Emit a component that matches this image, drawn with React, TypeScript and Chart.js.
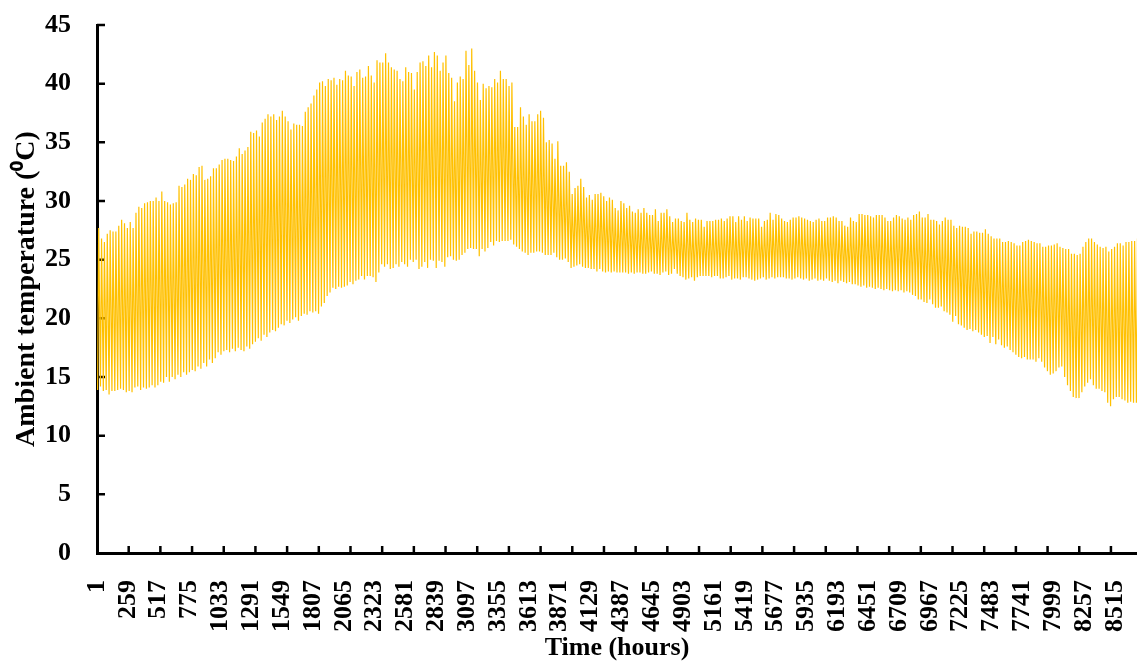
import { useEffect, useRef } from "react";
import { Chart, registerables } from "chart.js";

Chart.register(...registerables);

// Daily maximum ambient temperature (°C), one value per day of the year
const dailyMax = [
  27.7, 26.8, 26.5, 27.2, 27.5, 27.4, 27.4, 27.9, 28.4, 28.1,
  27.7, 28.2, 27.7, 29.0, 29.5, 29.4, 29.8, 29.9, 30.0, 30.0,
  30.3, 30.0, 30.8, 30.0, 29.9, 29.7, 29.8, 29.9, 31.3, 31.2,
  31.4, 31.9, 31.8, 32.3, 32.2, 32.9, 33.0, 31.8, 31.9, 32.1,
  32.8, 32.8, 33.1, 33.5, 33.6,
  33.6, 33.5, 33.4, 33.8, 34.5, 34.0, 34.3, 34.6, 35.9, 35.8,
  36.0, 35.5, 36.7, 37.0, 37.4, 37.2, 37.4, 36.9, 37.2, 37.7,
  37.2, 36.8, 36.1, 36.6, 36.5, 36.5, 36.4, 37.6, 38.0, 38.3,
  39.0, 39.5, 40.1, 40.2, 39.8, 40.4, 40.3, 40.5, 39.9, 40.4,
  40.3, 41.1, 40.7, 40.6, 39.8, 41.0, 41.2, 40.5,
  40.6, 41.5, 40.7, 40.1, 42.0, 41.8, 41.8, 42.6, 41.8, 41.4,
  41.2, 41.1, 40.4, 40.2, 41.4, 41.0, 40.9, 39.5, 41.0, 41.8,
  41.9, 41.5, 42.4, 41.4, 42.7, 42.4, 41.1, 41.8, 42.4, 40.9,
  40.5, 38.5, 40.1, 40.6, 40.4, 42.8, 41.6, 43.0, 41.1, 40.1,
  38.6, 40.0, 39.6, 39.8, 39.7, 40.4, 40.1, 41.1,
  40.4, 40.4, 39.8, 40.1, 36.3, 36.3, 38.0, 37.2, 36.5, 37.4,
  36.8, 36.8, 37.4, 37.7, 37.1, 35.0, 35.2, 34.9, 33.6, 35.1,
  33.0, 33.0, 33.3, 32.5, 30.6, 31.1, 31.3, 31.9, 31.2, 30.3,
  30.5, 30.1, 30.6, 30.6, 30.7, 30.4, 30.0, 30.3, 30.1, 29.4,
  29.2, 30.0, 29.8, 29.4, 29.6, 29.1, 29.0, 29.3,
  29.0, 29.4, 29.0, 28.8, 28.8, 29.3, 28.3, 29.0, 29.0, 29.3,
  28.7, 28.2, 28.5, 28.5, 28.3, 28.2, 29.0, 28.4, 28.2, 28.5,
  28.4, 28.4, 27.8, 28.3, 28.3, 28.3, 28.4, 28.4, 28.5, 28.3,
  28.5, 28.7, 28.7, 28.2, 28.7, 28.4, 28.7, 28.3, 28.6, 28.5,
  28.5, 28.5, 27.8, 28.3, 28.4, 29.0,
  28.4, 28.9, 28.8, 28.5, 28.3, 28.2, 28.4, 28.6, 28.6, 28.7,
  28.6, 28.5, 28.4, 28.3, 28.2, 28.4, 28.5, 28.3, 28.3, 28.6,
  28.6, 28.7, 28.6, 28.3, 28.3, 27.9, 27.8, 28.6, 28.3, 28.2,
  28.9, 28.9, 28.8, 28.8, 28.7, 28.6, 28.8, 28.8, 28.8, 28.6,
  28.3, 28.3, 28.6, 28.8, 28.7, 28.5, 28.4, 28.6,
  28.4, 28.8, 28.9, 29.1, 28.6, 28.6, 28.9, 28.4, 28.4, 28.3,
  28.0, 28.3, 28.6, 28.4, 28.4, 27.9, 27.7, 27.9, 27.8, 27.8,
  27.7, 27.2, 27.4, 27.4, 27.3, 27.3, 27.6, 27.2, 27.0, 26.8,
  26.8, 26.8, 26.5, 26.5, 26.6, 26.5, 26.4, 26.2, 26.2, 26.5,
  26.6, 26.7, 26.6, 26.5, 26.4, 26.4, 26.1,
  26.1, 26.2, 26.2, 26.3, 26.4, 26.1, 26.0, 25.9, 25.9, 25.5,
  25.5, 25.4, 25.5, 26.1, 26.5, 26.8, 26.8, 26.5, 26.3, 26.1,
  26.0, 26.1, 25.7, 25.9, 26.1, 26.4, 26.4, 26.2, 26.5, 26.5,
  26.6, 26.6, 26.8, 27.0, 26.6,
];

// Daily minimum ambient temperature (°C), one value per day of the year
const dailyMin = [
  13.9, 14.2, 13.8, 13.9, 13.5, 13.8, 13.8, 13.9, 14.0, 13.9,
  13.7, 13.8, 13.7, 14.1, 14.2, 13.9, 14.1, 14.0, 14.1, 14.3,
  14.1, 14.3, 14.6, 14.5, 15.0, 14.6, 15.0, 14.8, 15.2, 15.0,
  15.4, 15.2, 15.4, 15.6, 15.5, 15.9, 15.7, 16.2, 15.9, 16.5,
  16.2, 16.6, 17.1, 16.9, 17.2,
  17.3, 17.1, 17.4, 17.2, 17.5, 17.3, 17.2, 17.6, 17.4, 17.8,
  18.0, 18.3, 18.1, 18.6, 18.4, 18.8, 19.0, 18.9,
  19.2, 19.5, 19.4, 19.8, 19.6, 19.9, 20.1, 19.8,
  20.2, 20.4, 20.3, 20.6, 20.5, 20.6, 20.4, 21.0,
  21.3, 21.9, 22.2, 22.6, 22.5, 22.7, 22.6,
  22.7, 22.8, 23.1, 22.9, 23.2, 23.3, 23.6,
  23.3, 23.6, 23.6, 23.5, 23.1, 23.9, 24.6, 24.4, 24.6, 24.2,
  24.3, 24.6, 24.4, 24.8, 24.6, 24.4, 25.0, 24.8, 25.0, 24.2,
  24.4, 24.8, 24.3, 25.0, 24.9, 24.3, 24.9, 24.8, 24.4, 25.2,
  25.3, 25.0, 24.9, 25.0, 25.4, 25.6, 25.9, 26.0, 25.9, 25.9,
  25.3, 25.9, 25.7, 26.0, 26.5, 26.2, 26.6, 26.5,
  26.6, 26.6, 26.6, 26.7, 26.3, 26.1, 25.9, 25.7, 25.6, 25.4,
  25.6, 25.6, 25.7, 25.7, 25.6, 25.4, 25.4, 25.4, 25.6, 25.2,
  25.0, 25.0, 25.1, 24.8, 24.3, 24.4, 24.5, 24.6, 24.4, 24.3,
  24.3, 24.2, 24.2, 24.0, 24.2, 24.0, 23.9, 24.0, 23.9, 24.0,
  23.9, 23.9, 23.9, 23.9, 23.8, 23.9, 23.8, 23.9,
  23.9, 23.8, 23.8, 23.9, 24.0, 23.8, 23.8, 23.7, 23.9, 24.0,
  23.7, 23.8, 24.2, 23.8, 23.6, 23.5, 23.3, 23.4, 23.5, 23.2,
  23.5, 23.6, 23.6, 23.6, 23.6, 23.5, 23.6, 23.6, 23.4, 23.4,
  23.5, 23.6, 23.3, 23.4, 23.4, 23.3, 23.5, 23.5, 23.4, 23.3,
  23.2, 23.3, 23.4, 23.5, 23.3, 23.4,
  23.5, 23.4, 23.5, 23.5, 23.5, 23.4, 23.4, 23.3, 23.4, 23.5,
  23.4, 23.3, 23.4, 23.2, 23.3, 23.4, 23.2, 23.3, 23.2, 23.4,
  23.2, 23.1, 23.2, 23.0, 23.2, 23.1, 23.0, 23.1, 22.9, 22.9,
  22.8, 22.7, 22.8, 22.6, 22.7, 22.6, 22.5, 22.6, 22.5, 22.4,
  22.5, 22.4, 22.3, 22.4, 22.3, 22.4, 22.2, 22.3,
  22.2, 22.0, 21.9, 21.6, 21.6, 21.4, 21.3, 21.6, 21.2, 20.9,
  20.9, 21.0, 20.6, 20.5, 20.3, 19.7, 20.2, 19.5, 19.4, 19.2,
  19.0, 19.1, 18.9, 19.0, 18.8, 18.6, 18.4, 18.5, 17.9, 18.4,
  17.8, 18.2, 17.7, 17.5, 17.6, 17.3, 17.1, 16.9, 16.7, 16.6,
  16.7, 16.5, 16.5, 16.5, 16.3, 16.6, 16.3,
  15.8, 15.5, 15.2, 15.3, 15.5, 15.8, 15.9, 15.0, 14.3, 13.8,
  13.3, 13.2, 13.2, 13.7, 14.2, 14.5, 14.8, 14.3, 14.0, 14.0,
  13.8, 13.7, 12.8, 12.5, 13.1, 13.3, 13.3, 13.1, 13.0, 12.8,
  12.9, 12.8, 12.8, 13.0, 12.9,
];

// Hour labels printed along the time axis
const hourLabels = [
  1, 259, 517, 775, 1033, 1291, 1549, 1807, 2065, 2323, 2581, 2839,
  3097, 3355, 3613, 3871, 4129, 4387, 4645, 4903, 5161, 5419, 5677,
  5935, 6193, 6451, 6709, 6967, 7225, 7483, 7741, 7999, 8257, 8515,
];

// Temperature axis ticks
const tempTicks = [0, 5, 10, 15, 20, 25, 30, 35, 40, 45];

const HOUR_OF_MIN = 6;
const HOUR_OF_MAX = 15;
const TICK_MARK_STEP = 265;
const X_MIN = 1;
const X_MAX = 8699;

const SERIF = "'Liberation Serif', 'Times New Roman', Times, serif";

function hourlySeries() {
  const pts: { x: number; y: number }[] = [];
  for (let d = 0; d < dailyMax.length; d++) {
    pts.push({ x: d * 24 + HOUR_OF_MIN, y: dailyMin[d] });
    pts.push({ x: d * 24 + HOUR_OF_MAX, y: dailyMax[d] });
  }
  return pts;
}

// Short tick marks pointing into the plot, drawn underneath the data
const innerTicks = {
  id: "innerTicks",
  beforeDatasetsDraw(chart: any) {
    const { ctx, chartArea, scales } = chart;
    const x = scales.x;
    const y = scales.y;
    ctx.save();
    ctx.strokeStyle = "#000";
    ctx.lineWidth = 2.5;
    ctx.beginPath();
    for (const v of tempTicks) {
      if (v === 0) continue;
      const py = y.getPixelForValue(v);
      ctx.moveTo(chartArea.left, py);
      ctx.lineTo(chartArea.left + 8, py);
    }
    for (let h = X_MIN + TICK_MARK_STEP; h <= X_MAX; h += TICK_MARK_STEP) {
      const px = x.getPixelForValue(h);
      ctx.moveTo(px, chartArea.bottom);
      ctx.lineTo(px, chartArea.bottom - 7);
    }
    ctx.stroke();
    ctx.restore();
  },
};

export default function App() {
  const canvasRef = useRef<HTMLCanvasElement | null>(null);

  useEffect(() => {
    document.body.style.margin = "0";
    const canvas = canvasRef.current;
    if (!canvas) return;

    const chart = new Chart(canvas, {
      type: "line",
      data: {
        datasets: [
          {
            label: "Ambient temperature",
            data: hourlySeries(),
            borderColor: "#FFC000",
            borderWidth: 1.2,
            pointRadius: 0,
            tension: 0,
            fill: false,
          },
        ],
      },
      plugins: [innerTicks],
      options: {
        animation: false,
        responsive: false,
        devicePixelRatio: 1,
        parsing: false,
        layout: { padding: { top: 25, left: 0, right: 0, bottom: 0 } },
        plugins: {
          legend: { display: false },
          tooltip: { enabled: false },
        },
        scales: {
          x: {
            type: "linear",
            min: X_MIN,
            max: X_MAX,
            grid: { display: false },
            border: { display: true, color: "#000", width: 3 },
            afterBuildTicks: (s: any) => {
              s.ticks = hourLabels.map((v) => ({ value: v }));
            },
            afterFit: (s: any) => {
              s.height = 111;
              s.paddingLeft = 0;
              s.paddingRight = 0;
            },
            ticks: {
              autoSkip: false,
              minRotation: 90,
              maxRotation: 90,
              padding: 19,
              color: "#000",
              font: { family: SERIF, size: 26, weight: "bold" },
              callback: (v: any) => String(v),
            },
            title: {
              display: true,
              text: "Time (hours)",
              color: "#000",
              font: { family: SERIF, size: 26, weight: "bold", lineHeight: 1.2 },
              padding: { top: 0, bottom: 0 },
            },
          },
          y: {
            min: 0,
            max: 45,
            grid: { display: false },
            border: { display: true, color: "#000", width: 3 },
            afterBuildTicks: (s: any) => {
              s.ticks = tempTicks.map((v) => ({ value: v }));
            },
            afterFit: (s: any) => {
              s.width = 97;
              s.paddingTop = 0;
              s.paddingBottom = 0;
            },
            ticks: {
              padding: 18,
              color: "#000",
              font: { family: SERIF, size: 26, weight: "bold" },
              callback: (v: any) => String(v),
            },
            title: {
              display: true,
              text: "Ambient temperature (\u2070C)",
              color: "#000",
              font: { family: SERIF, size: 28, weight: "bold", lineHeight: 1.2 },
              padding: { top: 10, bottom: 0 },
            },
          },
        },
      },
    } as any);

    return () => chart.destroy();
  }, []);

  return (
    <div style={{ width: 1137, height: 664, background: "#fff" }}>
      <canvas ref={canvasRef} width={1137} height={664} style={{ display: "block" }} />
    </div>
  );
}
